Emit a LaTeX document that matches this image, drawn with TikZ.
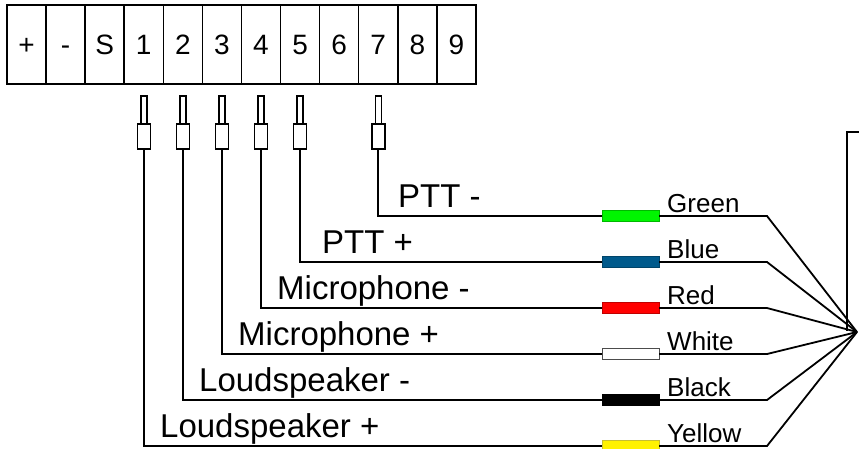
\documentclass[tikz,border=0pt]{standalone}
\usepackage{fontspec}
\setmainfont{Liberation Sans}
\usetikzlibrary{positioning}
\definecolor{wireblue}{RGB}{0,90,140}
\definecolor{wiregreen}{RGB}{0,245,0}
\tikzset{
	term/.style={draw,line width=1.5,outer sep=0pt,minimum width=39.08pt,minimum height=79pt,inner sep=0pt,text height=20pt,text depth=0pt,font=\fontsize{28}{28}\selectfont},
	pintip/.style={draw,line width=1.5,outer sep=0pt,minimum width=6pt,minimum height=28pt,inner sep=0pt},
	pinbody/.style={draw,line width=1.5,outer sep=0pt,minimum width=13pt,minimum height=25pt,inner sep=0pt},
	sleeve/.style={draw=#1!75!black,fill=#1,line width=0.6,outer sep=0pt,minimum width=57pt,minimum height=11pt,inner sep=0pt},
	wire/.style={line width=1.8},
	wirename/.style={anchor=base west,inner sep=0pt,font=\fontsize{33}{33}\selectfont},
	colname/.style={anchor=base west,inner sep=0pt,font=\fontsize{26}{26}\selectfont}
}
\begin{document}
	\begin{tikzpicture}[x=1pt,y=-1pt]
		\useasboundingbox (0,0) rectangle (859,448);
		\node[term] (Tp) at (26.54,44.5) {+};
		\node[term,right=0pt of Tp] (Tm) {-};
		\node[term,right=0pt of Tm] (TS) {S};
		\node[term,right=0pt of TS] (T1) {1};
		\node[term,right=0pt of T1] (T2) {2};
		\node[term,right=0pt of T2] (T3) {3};
		\node[term,right=0pt of T3] (T4) {4};
		\node[term,right=0pt of T4] (T5) {5};
		\node[term,right=0pt of T5] (T6) {6};
		\node[term,right=0pt of T6] (T7) {7};
		\node[term,right=0pt of T7] (T8) {8};
		\node[term,right=0pt of T8] (T9) {9};
		% pins
		\node[pintip,below=12pt of T1] (P1t) {};
		\node[pintip,below=12pt of T2] (P2t) {};
		\node[pintip,below=12pt of T3] (P3t) {};
		\node[pintip,below=12pt of T4] (P4t) {};
		\node[pintip,below=12pt of T5] (P5t) {};
		\node[pintip,below=12pt of T7] (P7t) {};
		\node[pinbody,below=0pt of P1t] (P1) {};
		\node[pinbody,below=0pt of P2t] (P2) {};
		\node[pinbody,below=0pt of P3t] (P3) {};
		\node[pinbody,below=0pt of P4t] (P4) {};
		\node[pinbody,below=0pt of P5t] (P5) {};
		\node[pinbody,below=0pt of P7t] (P7) {};
		% colour sleeves
		\node[sleeve=wiregreen] (G) at (630.5,216) {};
		\node[sleeve=wireblue] (B) at (630.5,262) {};
		\node[sleeve=red] (R) at (630.5,308) {};
		\node[sleeve=white,draw=black!70] (W) at (630.5,354) {};
		\node[sleeve=black] (K) at (630.5,400) {};
		\node[sleeve=yellow] (Y) at (630.5,446) {};
		\coordinate (H) at (857,332);
		\draw[wire] (P7.south) |- (G.west);
		\draw[wire] (P5.south) |- (B.west);
		\draw[wire] (P4.south) |- (R.west);
		\draw[wire] (P3.south) |- (W.west);
		\draw[wire] (P2.south) |- (K.west);
		\draw[wire] (P1.south) |- (Y.west);
		\draw[wire] (G.east) -- ++(108,0) -- (H);
		\draw[wire] (B.east) -- ++(108,0) -- (H);
		\draw[wire] (R.east) -- ++(108,0) -- (H);
		\draw[wire] (W.east) -- ++(108,0) -- (H);
		\draw[wire] (K.east) -- ++(108,0) -- (H);
		\draw[wire] (Y.east) -- ++(108,0) -- (H);
		\draw[wire] (859,132) -- (847,132) -- (847,331);
		% labels
		\node[wirename] at (398,207) {PTT -};
		\node[wirename] at (322,253) {PTT +};
		\node[wirename] at (277,299) {Microphone -};
		\node[wirename] at (238,345) {Microphone +};
		\node[wirename] at (199,391) {Loudspeaker -};
		\node[wirename] at (160,437) {Loudspeaker +};
		\node[colname] at (667,212) {Green};
		\node[colname] at (667,258) {Blue};
		\node[colname] at (667,304) {Red};
		\node[colname] at (667,350) {White};
		\node[colname] at (667,396) {Black};
		\node[colname] at (667,442) {Yellow};
	\end{tikzpicture}
\end{document}
